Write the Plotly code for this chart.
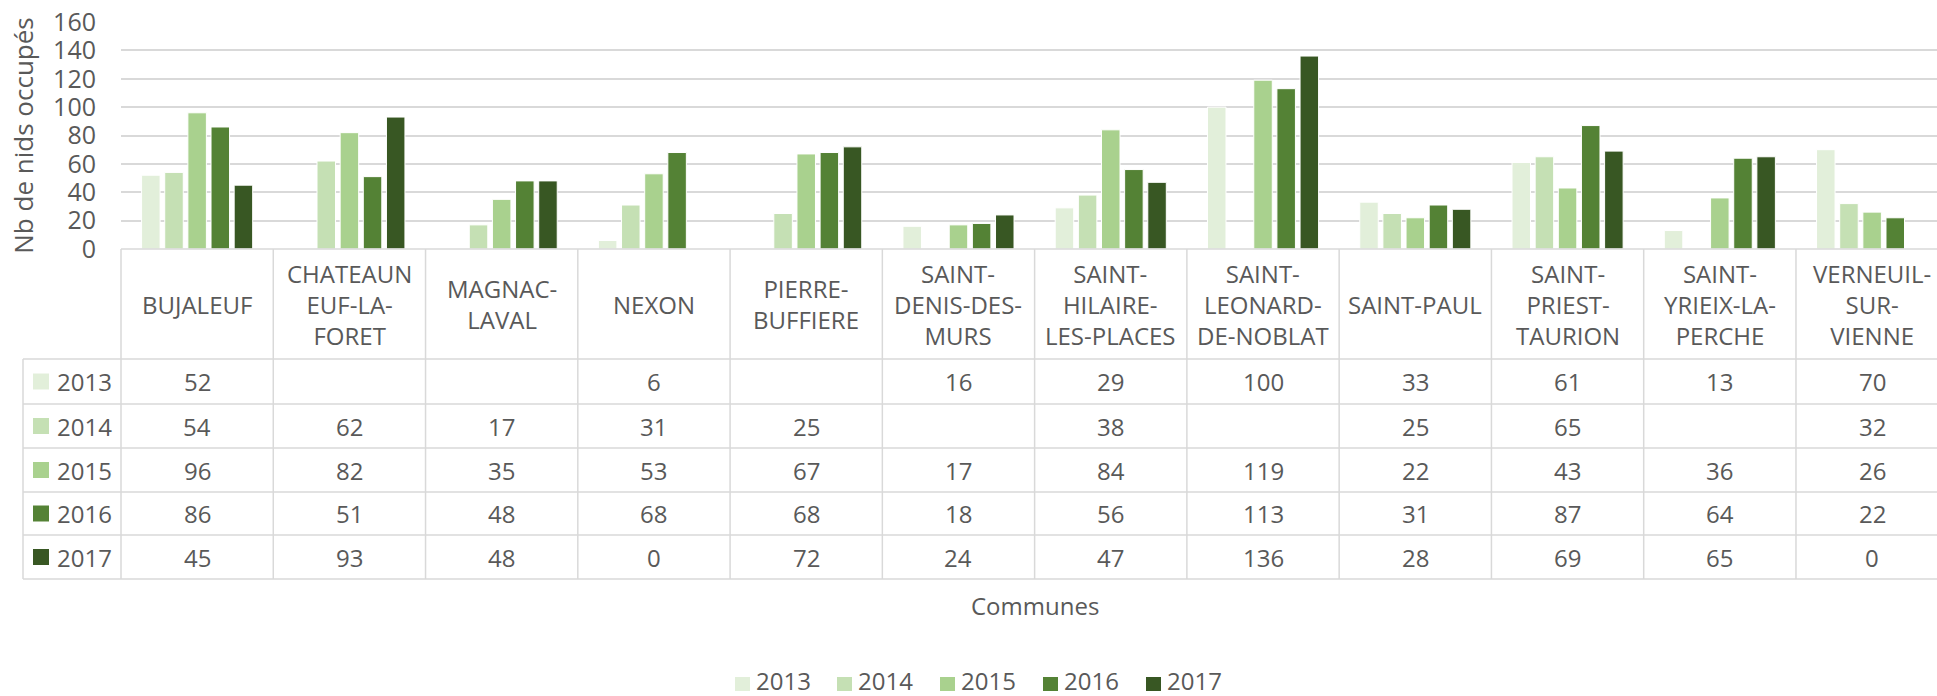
import plotly.graph_objects as go

communes = ["BUJALEUF", "CHATEAUNEUF-LA-FORET", "MAGNAC-LAVAL", "NEXON", "PIERRE-BUFFIERE",
            "SAINT-DENIS-DES-MURS", "SAINT-HILAIRE-LES-PLACES", "SAINT-LEONARD-DE-NOBLAT",
            "SAINT-PAUL", "SAINT-PRIEST-TAURION", "SAINT-YRIEIX-LA-PERCHE", "VERNEUIL-SUR-VIENNE"]
header_labels = ["BUJALEUF", "CHATEAUN<br>EUF-LA-<br>FORET", "MAGNAC-<br>LAVAL", "NEXON",
                 "PIERRE-<br>BUFFIERE", "SAINT-<br>DENIS-DES-<br>MURS", "SAINT-<br>HILAIRE-<br>LES-PLACES",
                 "SAINT-<br>LEONARD-<br>DE-NOBLAT", "SAINT-PAUL", "SAINT-<br>PRIEST-<br>TAURION",
                 "SAINT-<br>YRIEIX-LA-<br>PERCHE", "VERNEUIL-<br>SUR-<br>VIENNE"]
years = ["2013", "2014", "2015", "2016", "2017"]
v2013 = [52, None, None, 6, None, 16, 29, 100, 33, 61, 13, 70]
v2014 = [54, 62, 17, 31, 25, None, 38, None, 25, 65, None, 32]
v2015 = [96, 82, 35, 53, 67, 17, 84, 119, 22, 43, 36, 26]
v2016 = [86, 51, 48, 68, 68, 18, 56, 113, 31, 87, 64, 22]
v2017 = [45, 93, 48, 0, 72, 24, 47, 136, 28, 69, 65, 0]
series = [v2013, v2014, v2015, v2016, v2017]
colors = ["#E2EFDA", "#C5E0B4", "#A9D18E", "#548235", "#385723"]
y_ticks = [0, 20, 40, 60, 80, 100, 120, 140, 160]

FONT = "Open Sans"
TXT = "#595959"
GRID = "#D9D9D9"
FS = 24

W_FIG, H_FIG = 1937, 696
L, R, T, B = 121, 1937, 22, 249
PW, PH = R - L, B - T
x_range = [-0.5, -0.5 + PW / 152.27]


def px(x):
    return (x - L) / PW


def py(y):
    return (B - y) / PH


def cat_to_paper(c):
    return (c - x_range[0]) / (x_range[1] - x_range[0])


fig = go.Figure()
idx = list(range(len(communes)))
for yr, vals, col in zip(years, series, colors):
    fig.add_trace(go.Bar(x=idx, y=vals, name=yr, marker=dict(color=col, line=dict(color="white", width=1)),
                         showlegend=False))

shapes = []
annotations = []
line = dict(color=GRID, width=1.5)

row_edges = [359, 404, 448, 492, 535, 579]
header_top = 249
left_edge = 23

shapes.append(dict(type="line", xref="paper", yref="paper", x0=px(L), x1=px(R), y0=py(header_top), y1=py(header_top), line=line))
for ry in row_edges:
    shapes.append(dict(type="line", xref="paper", yref="paper", x0=px(left_edge), x1=px(R), y0=py(ry), y1=py(ry), line=line))
shapes.append(dict(type="line", xref="paper", yref="paper", x0=px(left_edge), x1=px(left_edge), y0=py(row_edges[0]), y1=py(row_edges[-1]), line=line))
for k in range(len(communes) + 1):
    xb = cat_to_paper(k - 0.5)
    if xb <= 1.0:
        shapes.append(dict(type="line", xref="paper", yref="paper", x0=xb, x1=xb, y0=py(header_top), y1=py(row_edges[-1]), line=line))

for i, h in enumerate(header_labels):
    annotations.append(dict(x=i, y=py((header_top + row_edges[0]) / 2), xref="x", yref="paper", text=h, showarrow=False,
                            font=dict(family=FONT, size=FS, color=TXT), xanchor="center", yanchor="middle", align="center"))

for r, (yr, vals, col) in enumerate(zip(years, series, colors)):
    yc = (row_edges[r] + row_edges[r + 1]) / 2
    shapes.append(dict(type="rect", xref="paper", yref="paper", x0=px(33), x1=px(49), y0=py(yc - 8), y1=py(yc + 8),
                       fillcolor=col, line=dict(width=0)))
    annotations.append(dict(x=px(55), y=py(yc), xref="paper", yref="paper", text=yr, showarrow=False,
                            font=dict(family=FONT, size=FS, color=TXT), xanchor="left", yanchor="middle"))
    for i, v in enumerate(vals):
        if v is None:
            continue
        annotations.append(dict(x=i, y=py(yc), xref="x", yref="paper", text=str(v), showarrow=False,
                                font=dict(family=FONT, size=FS, color=TXT), xanchor="center", yanchor="middle"))

annotations.append(dict(x=px(1035), y=py(605), xref="paper", yref="paper", text="Communes", showarrow=False,
                        font=dict(family=FONT, size=FS, color=TXT), xanchor="center", yanchor="middle"))

leg_sq = [735, 837, 940, 1043, 1146]
LEG_Y = 681
for yr, col, sx in zip(years, colors, leg_sq):
    shapes.append(dict(type="rect", xref="paper", yref="paper", x0=px(sx), x1=px(sx + 15), y0=py(LEG_Y - 4), y1=py(LEG_Y + 10),
                       fillcolor=col, line=dict(width=0)))
    annotations.append(dict(x=px(sx + 20), y=py(LEG_Y), xref="paper", yref="paper", text=yr, showarrow=False,
                            borderpad=0, font=dict(family=FONT, size=FS, color=TXT), xanchor="left", yanchor="middle"))

fig.update_layout(
    template="none",
    width=W_FIG, height=H_FIG,
    margin=dict(l=L, r=W_FIG - R, t=T, b=H_FIG - B, pad=0, autoexpand=False),
    paper_bgcolor="white", plot_bgcolor="white",
    barmode="group", bargap=0.24, bargroupgap=0.2,
    font=dict(family=FONT, size=FS, color=TXT),
    showlegend=False,
    xaxis=dict(range=x_range, showticklabels=False, showgrid=False, zeroline=False, ticks="", showline=False,
               automargin=False, fixedrange=True),
    yaxis=dict(range=[0, 160], tickvals=y_ticks, showgrid=True, gridcolor=GRID, gridwidth=1.5, zeroline=False,
               ticks="", ticklabelstandoff=24, showline=False, automargin=False,
               tickfont=dict(family=FONT, size=25, color=TXT),
               title=dict(text="Nb de nids occupés", font=dict(family=FONT, size=26, color=TXT), standoff=12)),
    shapes=shapes, annotations=annotations,
)

fig.write_html("out.html", config={"displayModeBar": False},
               post_script="document.body.style.margin='0px';document.body.style.overflow='hidden';")
